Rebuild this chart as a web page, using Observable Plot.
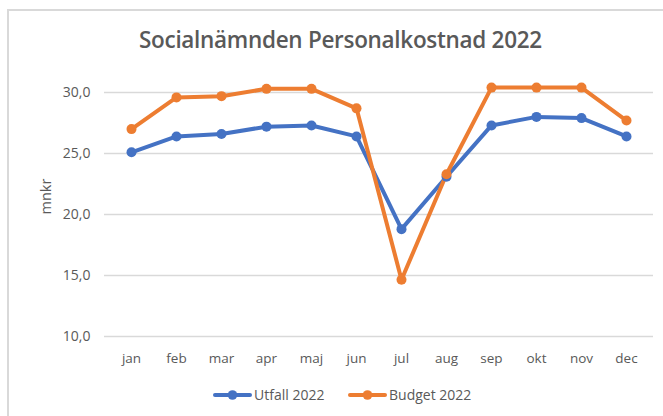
<!DOCTYPE html>
<html><head><meta charset="utf-8">
<script src="https://cdn.jsdelivr.net/npm/d3@7"></script>
<script src="https://cdn.jsdelivr.net/npm/@observablehq/plot@0.6"></script>
<style>
body{margin:0;background:#fff;}
#wrap{position:relative;width:663px;height:416px;overflow:hidden;font-family:"Open Sans",sans-serif;}
#frame{position:absolute;left:7px;top:9px;width:700px;height:500px;border-left:2px solid #d9d9d9;border-top:2px solid #d9d9d9;box-sizing:border-box;}
#title{position:absolute;left:139px;top:25px;white-space:nowrap;font-size:22.5px;font-weight:600;color:#595959;letter-spacing:-0.3px;line-height:30px;}
.item{position:absolute;top:386px;display:flex;align-items:center;gap:2px;font-size:14px;color:#595959;line-height:18px;}
#chart{position:absolute;left:0;top:0;}
</style></head>
<body>
<div id="wrap">
<div id="frame"></div>
<div id="chart"></div>
<div id="title">Socialnämnden Personalkostnad 2022</div>
<div id="legend"></div>
</div>
<script>
const months = ["jan","feb","mar","apr","maj","jun","jul","aug","sep","okt","nov","dec"];
const utfall = [25.1,26.4,26.6,27.2,27.3,26.4,18.8,23.1,27.3,28.0,27.9,26.4];
const budget = [27.0,29.6,29.7,30.3,30.3,28.7,14.65,23.3,30.4,30.4,30.4,27.7];
const seriesNames = ["Utfall 2022","Budget 2022"];
const colors = ["#4472C4","#ED7D31"];
const yTicks = [10,15,20,25,30];

const data = [];
months.forEach((m,i)=>{
  data.push({month:m, value:utfall[i], series:seriesNames[0]});
  data.push({month:m, value:budget[i], series:seriesNames[1]});
});

const fmt = d => d.toFixed(1).replace(".", ",");

const plot = Plot.plot({
  width:663, height:416,
  marginLeft:104, marginRight:10, marginTop:92, marginBottom:80,
  style:{fontFamily:"'Open Sans',sans-serif", fontSize:"13px", color:"#595959", background:"transparent"},
  x:{type:"point", domain:months, padding:0.5, label:null},
  y:{domain:[10,30], label:null},
  color:{domain:seriesNames, range:colors},
  marks:[
    Plot.ruleY(yTicks, {stroke:"#d9d9d9", strokeWidth:1.5}),
    Plot.axisY({ticks:yTicks, tickFormat:fmt, tickSize:0, tickPadding:14, fontSize:14, fill:"#595959"}),
    Plot.axisX({tickSize:0, tickPadding:17, fontSize:13.5, fill:"#595959"}),
    Plot.text(["mnkr"], {frameAnchor:"left", dx:-58, rotate:-90, fontSize:14.5, fill:"#595959"}),
    Plot.line(data, {x:"month", y:"value", z:"series", stroke:"series", strokeWidth:4, strokeLinejoin:"round", strokeLinecap:"round"}),
    Plot.dot(data, {x:"month", y:"value", fill:"series", r:5})
  ]
});
document.getElementById("chart").appendChild(plot);

const legend = document.getElementById("legend");
const legendLeft = [213, 348];
seriesNames.forEach((s,i)=>{
  const it = document.createElement("div");
  it.className="item";
  it.style.left = legendLeft[i] + "px";
  it.innerHTML = `<svg width="39" height="12"><line x1="2" y1="6" x2="37" y2="6" stroke="${colors[i]}" stroke-width="4" stroke-linecap="round"/><circle cx="19.5" cy="6" r="4.8" fill="${colors[i]}"/></svg><span>${s}</span>`;
  legend.appendChild(it);
});
</script>
</body></html>
